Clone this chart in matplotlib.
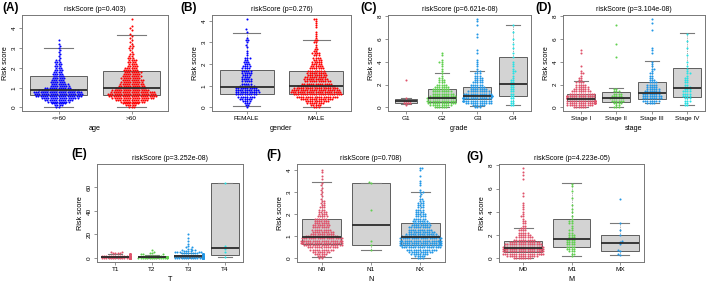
import numpy as np
import matplotlib
matplotlib.use("Agg")
import matplotlib.pyplot as plt

plt.rcParams['font.family'] = ['Liberation Sans', 'DejaVu Sans']

W, H = 709, 283
R_COLS = ["#DF536B", "#61D04F", "#2297E6", "#28E2E5"]

# ---- data (risk score counts per bin, read off the swarms) ----
# (A) age, bin step 0.1 starting at 0
A_groups = ["<=60", ">60"]
A_step = 0.1
A_counts = [
    [2, 4, 7, 10, 13, 17, 21, 22, 22, 18, 12, 9, 8, 7, 6, 6, 5, 5, 4, 4, 3, 3, 3, 3, 2, 1, 1, 1, 1, 1, 1, 1, 1, 0, 1],
    [3, 5, 8, 11, 15, 19, 22, 22, 20, 17, 14, 12, 11, 10, 10, 9, 9, 8, 8, 7, 6, 5, 4, 4, 4, 3, 2, 2, 1, 1, 2, 2, 1, 1, 1, 1, 1, 1, 0, 1, 1, 1, 0, 0, 0, 1],
]
A_extra = [[], []]
A_q1 = [0.62, 0.62]
A_med = [0.86, 1.0]
A_q3 = [1.6, 1.87]
A_lo = [0.02, 0.0]
A_hi = [3.0, 3.68]

# (B) gender
B_groups = ["FEMALE", "MALE"]
B_step = 0.1
B_counts = [
    [1, 2, 3, 4, 6, 8, 10, 11, 11, 10, 7, 5, 5, 5, 4, 4, 5, 5, 4, 4, 3, 3, 2, 3, 1, 1, 1, 0, 1, 1, 1, 2, 1, 0, 0, 1, 1, 0, 0, 0, 0, 1],
    [3, 5, 8, 11, 15, 19, 22, 23, 22, 20, 17, 14, 12, 11, 10, 9, 9, 8, 7, 6, 5, 5, 4, 4, 3, 4, 2, 2, 1, 1, 2, 2, 1, 1, 1, 1, 0, 1, 1, 1, 1, 2],
]
B_extra = [[], []]
B_q1 = [0.62, 0.62]
B_med = [0.92, 0.98]
B_q3 = [1.75, 1.66]
B_lo = [0.08, 0.0]
B_hi = [3.42, 3.13]

# (C) grade, bin step 0.2
C_groups = ["G1", "G2", "G3", "G4"]
C_step = 0.2
C_counts = [
    [0, 1, 4, 4, 1, 0, 0, 0, 0, 0, 0, 0, 1],
    [6, 10, 13, 14, 14, 12, 10, 9, 8, 7, 5, 3, 3, 2, 1, 1, 1, 1, 1, 1, 2, 1, 0, 1, 1],
    [3, 6, 12, 16, 17, 16, 13, 10, 8, 7, 6, 5, 4, 4, 3, 3, 2, 1, 1, 1, 1, 1, 0, 0, 1, 1],
    [0, 2, 2, 2, 2, 2, 2, 2, 2, 2, 2, 2, 2, 1, 1, 1, 2, 1, 1, 1, 1, 0, 1, 0, 1, 0, 1, 0, 1, 0, 1],
]
C_extra = [[], [], [6.2, 6.4, 7.2, 7.6, 7.8], [6.6, 7.2]]
C_q1 = [0.4, 0.5, 0.72, 1.0]
C_med = [0.55, 0.82, 1.02, 2.1]
C_q3 = [0.78, 1.6, 1.78, 4.4]
C_lo = [0.3, 0.05, 0.1, 0.25]
C_hi = [0.8, 3.0, 3.2, 7.2]

# (D) stage
D_groups = ["Stage I", "Stage II", "Stage III", "Stage IV"]
D_step = 0.2
D_counts = [
    [6, 12, 18, 21, 20, 16, 12, 9, 7, 6, 5, 4, 2, 2, 1, 2, 1, 0, 1],
    [3, 2, 4, 6, 7, 5, 4, 3, 2],
    [0, 0, 4, 8, 9, 9, 8, 7, 6, 5, 5, 4, 3, 2, 2, 2, 1, 2, 1, 1, 1],
    [0, 2, 2, 3, 3, 4, 4, 4, 3, 3, 2, 2, 2, 2, 1, 2, 1, 1, 1, 0, 1],
]
D_extra = [[4.8, 5.0], [4.4, 5.6, 7.2], [4.8, 5.0, 5.2, 6.8, 7.4, 7.8], [4.6, 5.2, 5.8, 6.4]]
D_q1 = [0.55, 0.52, 0.75, 0.9]
D_med = [0.78, 0.82, 1.28, 1.7]
D_q3 = [1.22, 1.35, 2.25, 3.42]
D_lo = [0.05, 0.0, 0.35, 0.2]
D_hi = [2.3, 1.7, 4.1, 6.5]

# (E) T, bin step 1
E_groups = ["T1", "T2", "T3", "T4"]
E_step = 1.0
E_counts = [
    [40, 60, 25, 10, 4, 2],
    [15, 20, 8, 3, 2, 1, 0, 1],
    [35, 45, 25, 12, 8, 5, 4, 3, 2, 2, 1],
    [],
]
E_extra = [[], [], [12, 14, 17, 20], [0.5, 4.8, 7.7, 10.3, 64.0]]
E_q1 = [0.6, 0.5, 0.8, 2.8]
E_med = [0.9, 0.8, 1.2, 8.2]
E_q3 = [1.5, 1.3, 2.2, 64.0]
E_lo = [0.0, 0.0, 0.0, 0.5]
E_hi = [3.0, 2.5, 4.0, 64.0]

# (F) N
F_groups = ["N0", "N1", "NX"]
F_step = 0.1
F_counts = [
    [2, 4, 6, 8, 11, 14, 18, 21, 22, 19, 15, 11, 10, 9, 8, 8, 7, 7, 6, 5, 4, 4, 3, 3, 2, 2, 2, 1, 1, 1, 1, 1, 1, 1, 1, 0, 1, 1, 0, 1, 1],
    [],
    [3, 5, 8, 11, 14, 18, 21, 22, 22, 20, 17, 14, 12, 11, 10, 9, 8, 7, 6, 5, 5, 4, 4, 3, 3, 3, 2, 2, 1, 1, 2, 1, 0, 1, 1, 1, 0, 1, 0, 0, 1, 2],
]
F_extra = [[], [0.38, 0.6, 0.8, 2.2, 3.42, 3.45], []]
F_q1 = [0.65, 0.6, 0.6]
F_med = [0.95, 1.5, 0.97]
F_q3 = [1.8, 3.42, 1.6]
F_lo = [0.05, 0.38, 0.0]
F_hi = [3.47, 3.42, 3.0]

# (G) M
G_groups = ["M0", "M1", "MX"]
G_step = 0.2
G_counts = [
    [8, 14, 20, 22, 22, 20, 17, 14, 10, 8, 6, 5, 4, 3, 2, 2, 2, 1, 2, 1, 1, 1, 1, 1, 1],
    [0, 1, 2, 3, 4, 4, 4, 4, 4, 3, 3, 2, 2, 1, 1, 2, 2, 1, 1, 0, 1, 1, 0, 1],
    [],
]
G_extra = [[5.4, 5.6, 6.8, 7.2, 7.4, 7.8], [5.2, 5.8, 6.2, 6.4],
           [0.25, 0.4, 0.6, 0.7, 1.2, 1.4, 1.45, 2.0, 2.4, 3.0, 5.1]]
G_q1 = [0.55, 0.95, 0.6]
G_med = [0.9, 1.7, 1.3]
G_q3 = [1.5, 3.35, 2.05]
G_lo = [0.0, 0.2, 0.25]
G_hi = [2.6, 6.5, 3.0]

P_VALUES = {"A": "0.403", "B": "0.276", "C": "6.621e-08", "D": "3.104e-08",
            "E": "3.252e-08", "F": "0.708", "G": "4.223e-05"}


def expand(counts, step, extra):
    vals = []
    for i, c in enumerate(counts):
        vals += [i * step] * c
    return np.array(vals + list(extra), dtype=float)


def swarm(y_px, d, max_w):
    # simple beeswarm: place each point (sorted by y) as close to centre as possible
    order = np.argsort(y_px, kind="stable")
    xs = np.zeros(len(y_px))
    px, py = [], []
    for k, i in enumerate(order):
        yi = y_px[i]
        x = 0.0
        if px:
            ax_ = np.array(px)
            ay_ = np.array(py)
            dy = np.abs(ay_ - yi)
            m = dy < d
            if m.any():
                nx = ax_[m]
                dx = np.sqrt(d * d - dy[m] ** 2)
                cand = np.concatenate([[0.0], nx + dx, nx - dx])
                ok = np.all(np.abs(cand[:, None] - nx[None, :]) >= dx[None, :] - 1e-6, axis=1)
                cand = cand[ok]
                side = 1 if k % 2 == 0 else -1
                score = np.abs(cand) + 1e-4 * (cand * side < 0)
                x = cand[np.argmin(score)]
        if abs(x) > max_w:
            x = ((x + max_w) % (2 * max_w)) - max_w
        xs[i] = x
        px.append(x)
        py.append(yi)
    return xs


def panel(rect, tag, groups, colors, counts, step, extra, q1, med, q3, lo, hi,
          ylim, yticks, xlabel, label_xy, widths=None):
    l, b, w, h = rect
    ax = fig.add_axes([l / W, 1 - b / H, w / W, h / H])
    n = len(groups)
    ax.set_xlim(0.5, n + 0.5)
    ax.set_ylim(*ylim)
    if widths is None:
        widths = [0.78] * n

    stats = []
    for i in range(n):
        stats.append(dict(med=med[i], q1=q1[i], q3=q3[i], whislo=lo[i], whishi=hi[i], fliers=[]))
    ax.bxp(stats, positions=np.arange(1, n + 1), widths=widths, patch_artist=True,
           showfliers=False,
           boxprops=dict(facecolor="#D3D3D3", edgecolor="#5E5E5E", linewidth=0.7),
           medianprops=dict(color="#2B2B2B", linewidth=1.3, zorder=5),
           whiskerprops=dict(color="#8A8A8A", linewidth=0.6, linestyle=(0, (1, 1.2))),
           capprops=dict(color="#7A7A7A", linewidth=0.8), capwidths=[x / 2 for x in widths])

    d = 2.25
    upp = (ylim[1] - ylim[0]) / h  # data units per pixel (y)
    xpp = n / w
    for i in range(n):
        vals = expand(counts[i], step, extra[i])
        if len(vals) == 0:
            continue
        y_px = (vals - ylim[0]) / upp
        xo = swarm(y_px, d, 0.42 * w / n)
        ax.scatter(i + 1 + xo * xpp, vals, s=2.2, color=colors[i], linewidths=0, zorder=4)

    ax.set_xticks(np.arange(1, n + 1))
    ax.set_xticklabels(groups, fontsize=4.6)
    ax.set_yticks(yticks)
    ax.set_yticklabels([str(t) for t in yticks], fontsize=4.6, rotation=90, va="center")
    ax.tick_params(axis="both", length=2.2, width=0.5, color="#666666", pad=1.5)
    for s in ax.spines.values():
        s.set_color("#777777")
        s.set_linewidth(0.7)
    ax.set_xlabel(xlabel, fontsize=5.2, labelpad=3)
    ax.set_ylabel("Risk score", fontsize=5.2, labelpad=2)
    ax.set_title("riskScore (p=%s)" % P_VALUES[tag], fontsize=5.0, pad=3)
    fig.text(label_xy[0] / W, 1 - label_xy[1] / H, "(%s)" % tag, fontsize=8.5,
             fontweight="bold", ha="left", va="center")
    return ax


fig = plt.figure(figsize=(W / 100, H / 100), dpi=100)

TOP = 111
BOT = 262
panel((22, TOP, 146, 96), "A", A_groups, ["#0000FF", "#FF0000"], A_counts, A_step, A_extra,
      A_q1, A_med, A_q3, A_lo, A_hi, (-0.18, 4.68), [0, 1, 2, 3, 4], "age", (2, 8))
panel((212, TOP, 139, 96), "B", B_groups, ["#0000FF", "#FF0000"], B_counts, B_step, B_extra,
      B_q1, B_med, B_q3, B_lo, B_hi, (-0.164, 4.264), [0, 1, 2, 3, 4], "gender", (180, 8))
panel((388, TOP, 143, 96), "C", C_groups, R_COLS, C_counts, C_step, C_extra,
      C_q1, C_med, C_q3, C_lo, C_hi, (-0.312, 8.11), [0, 2, 4, 6, 8], "grade", (360, 8),
      widths=[0.6, 0.78, 0.78, 0.78])
panel((563, TOP, 142, 96), "D", D_groups, R_COLS, D_counts, D_step, D_extra,
      D_q1, D_med, D_q3, D_lo, D_hi, (-0.312, 8.11), [0, 2, 4, 6, 8], "stage", (535, 8))
panel((97, BOT, 146, 98), "E", E_groups, R_COLS, E_counts, E_step, E_extra,
      E_q1, E_med, E_q3, E_lo, E_hi, (-3.5, 80.0), [0, 20, 40, 60], "T", (71, 154))
panel((297, BOT, 148, 98), "F", F_groups, R_COLS[:3], F_counts, F_step, F_extra,
      F_q1, F_med, F_q3, F_lo, F_hi, (-0.164, 4.264), [0, 1, 2, 3, 4], "N", (266, 155))
panel((499, BOT, 145, 98), "G", G_groups, R_COLS[:3], G_counts, G_step, G_extra,
      G_q1, G_med, G_q3, G_lo, G_hi, (-0.312, 8.11), [0, 2, 4, 6, 8], "M", (466, 157))

fig.savefig("out.png", dpi=100)
